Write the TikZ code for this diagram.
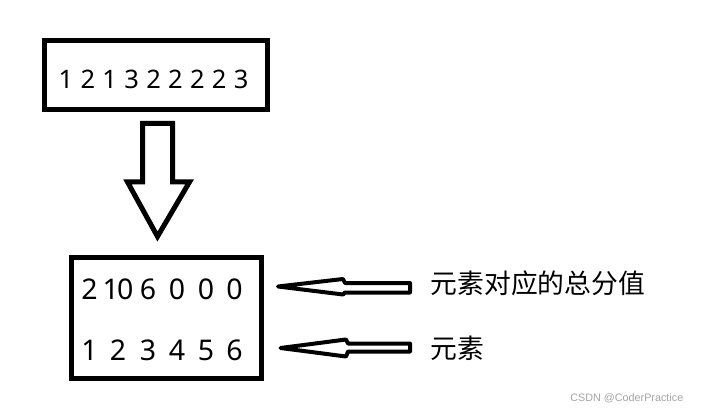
\documentclass[tikz,border=0pt]{standalone}
\usepackage{fontspec}
\setmainfont{Noto Sans}
\newfontfamily\cjkfont{Noto Sans CJK SC}
\newfontfamily\wmfont{Liberation Sans}
\definecolor{wmgray}{RGB}{165,165,165}
\newcommand\dgbox[1]{\makebox[21.9pt]{#1}}
\begin{document}
\begin{tikzpicture}[x=1pt,y=-1pt,
  box/.style={draw, line width=5pt, inner sep=0pt},
  bigarrow/.style={draw, line width=5pt, miter limit=10},
  sidearrow/.style={draw, line width=4pt, line join=round},
  topdig/.style={inner sep=0pt, anchor=base, font=\fontsize{25.5}{30}\selectfont},
  dig/.style={inner sep=0pt, anchor=base, font=\fontsize{28.5}{34}\selectfont},
  lab/.style={inner sep=0pt, anchor=base west, font=\cjkfont\fontsize{26.8}{32}\selectfont},
  wm/.style={inner sep=0pt, anchor=base east, text=wmgray, font=\wmfont\fontsize{10.8}{13}\selectfont}]
\useasboundingbox (0,0) rectangle (711,411);
\fill[white] (0,0) rectangle (711,411);
% top box
\node[box, minimum width=223.5pt, minimum height=69pt] (topbox) at (155.75,75.5) {};
\node[topdig] (toptext) at (153.6,88.3) {\dgbox1\dgbox2\dgbox1\dgbox3\dgbox2\dgbox2\dgbox2\dgbox2\dgbox3};
% down arrow
\draw[bigarrow] (142.5,123.5) -- (172.5,123.5) -- (172.5,182) -- (189.5,182) -- (157.5,236.5) -- (127.5,182) -- (142.5,182) -- cycle;
% bottom box
\node[box, minimum width=190.5pt, minimum height=120.5pt] (botbox) at (166.25,318.25) {};
\foreach \x/\a/\b [count=\i] in {89.5/2/1, 118/1\kern-2pt0/2, 148/6/3, 177/0/4, 206/0/5, 234.5/0/6} {
  \node[dig] (s\i) at (\x,299) {\a};
  \node[dig] (e\i) at (\x,360.5) {\b};
}
% side arrows
\draw[sidearrow] (278,286.5) -- (343,279) -- (345,283) -- (410,283) -- (410,292.5) -- (345,292.5) -- (343,294.5) -- cycle;
\draw[sidearrow] (280.5,348) -- (346,339.5) -- (348,343.5) -- (410,343.5) -- (410,351.5) -- (348,351.5) -- (346,356.5) -- cycle;
% labels
\node[lab] (total) at (430.5,293) {元素对应的总分值};
\node[lab] (elem) at (430.5,358.5) {元素};
\node[wm] (mark) at (683.5,401) {CSDN @CoderPractice};
\end{tikzpicture}
\end{document}
